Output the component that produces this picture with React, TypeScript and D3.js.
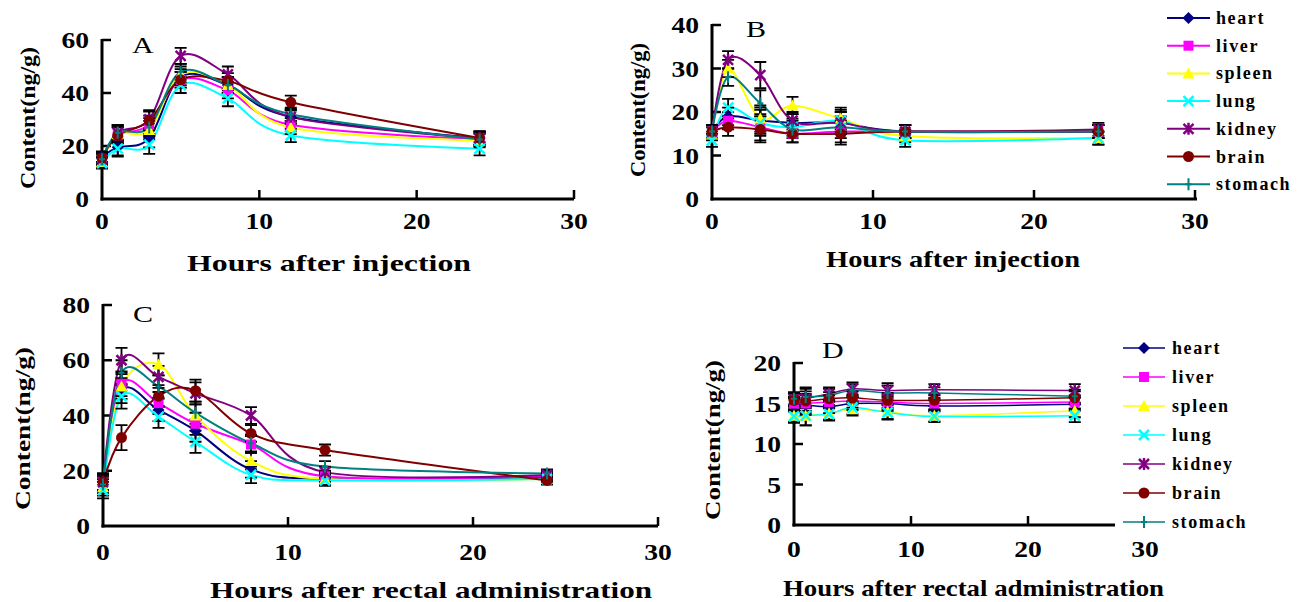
import React from "react";
import * as d3 from "d3";

// sampling times (hours)
const hours = [0, 1, 3, 5, 8, 12, 24];
const organs = ["heart", "liver", "spleen", "lung", "kidney", "brain", "stomach"];
const organColors = ["#000080", "#ff00ff", "#ffff00", "#00ffff", "#800080", "#800000", "#008080"];

// A: injection, tissue content ng/g
const heartA = [16, 19.5, 23, 46, 43, 31, 23];
const liverA = [15, 24, 28, 45, 41, 28, 22.5];
const spleenA = [14, 24.5, 26, 47, 43, 27, 22];
const lungA = [13.5, 19, 20.5, 43, 38, 24, 19];
const kidneyA = [15, 25, 30, 54, 47, 31, 23];
const brainA = [15.5, 24, 29.5, 45, 44.5, 36.5, 23];
const stomachA = [15, 25, 27, 48, 43, 32, 22.5];
const errA = [2, 3, 3.5, 3, 3, 2.5, 2.5];

// B
const heartB = [15.5, 19, 18, 17.5, 17.5, 15.5, 15.5];
const liverB = [15.5, 18, 16.5, 15, 15.5, 15.5, 15.5];
const spleenB = [15, 30, 18.5, 21.5, 18.5, 14.5, 14];
const lungB = [13.5, 21, 17.5, 16.5, 18, 13.5, 14];
const kidneyB = [15.5, 32, 28.5, 18, 17.5, 15.5, 16];
const brainB = [15.5, 16.5, 16, 15, 15, 15.5, 15.5];
const stomachB = [15.5, 28, 22, 16, 16.5, 15.5, 15.5];
const errB = [1.5, 2, 3, 2, 2.5, 1.5, 1.5];

// C: rectal administration
const heartC = [15, 49, 42, 34.5, 20.5, 17, 17.5];
const liverC = [15.5, 51.5, 44.5, 37, 29.5, 18, 18];
const spleenC = [14, 50.5, 58.5, 40, 23.5, 17, 17];
const lungC = [13, 47, 39.5, 30.5, 18.5, 16.5, 17];
const kidneyC = [16, 60, 54, 48, 40, 19.5, 18.5];
const brainC = [16, 32, 47, 49, 33.5, 27.5, 16.5];
const stomachC = [15, 55.5, 50.5, 41, 30, 21.5, 19];
const errC = [3, 4.5, 4, 4, 3, 2, 1.5];

// D
const heartD = [14.8, 14.8, 14.6, 15.0, 15.0, 14.7, 14.9];
const liverD = [15.0, 15.0, 15.2, 15.3, 15.2, 15.0, 15.2];
const spleenD = [13.5, 13.5, 13.8, 14.3, 14.0, 13.5, 14.1];
const lungD = [13.4, 13.5, 13.7, 14.5, 13.9, 13.4, 13.5];
const kidneyD = [15.5, 15.6, 16.2, 16.8, 16.6, 16.7, 16.6];
const brainD = [15.4, 15.3, 15.6, 15.7, 15.4, 15.4, 15.7];
const stomachD = [15.6, 15.8, 16.0, 16.6, 16.3, 16.3, 15.9];
const errD = [0.8, 1.2, 0.8, 0.8, 0.9, 0.7, 0.8];

const xTicks = [0, 10, 20, 30];
const yTicksA = [0, 20, 40, 60];
const yTicksB = [0, 10, 20, 30, 40];
const yTicksC = [0, 20, 40, 60, 80];
const yTicksD = [0, 5, 10, 15, 20];

const serif = "'Liberation Serif', 'Times New Roman', serif";

function Marker({ kind, x, y, color }) {
  const s = 5;
  switch (kind) {
    case 0:
      return <path d={`M${x},${y - s - 1}L${x + s + 1},${y}L${x},${y + s + 1}L${x - s - 1},${y}Z`} fill={color} />;
    case 1:
      return <rect x={x - s} y={y - s} width={2 * s} height={2 * s} fill={color} />;
    case 2:
      return <path d={`M${x},${y - s - 1}L${x + s + 1},${y + s}L${x - s - 1},${y + s}Z`} fill={color} />;
    case 3:
      return <path d={`M${x - s},${y - s}L${x + s},${y + s}M${x + s},${y - s}L${x - s},${y + s}`} stroke={color} strokeWidth={2.5} />;
    case 4:
      return (
        <path
          d={`M${x - s},${y - s}L${x + s},${y + s}M${x + s},${y - s}L${x - s},${y + s}M${x},${y - s - 1}L${x},${y + s + 1}`}
          stroke={color}
          strokeWidth={2.5}
        />
      );
    case 5:
      return <circle cx={x} cy={y} r={s + 0.5} fill={color} />;
    default:
      return <path d={`M${x},${y - s - 1}L${x},${y + s + 1}M${x - 3},${y}L${x + 3},${y}`} stroke={color} strokeWidth={2} />;
  }
}

// the figure is a little stretched sideways, so labels are widened
function Wide({ x, y, anchor, size, bold, sx, children }) {
  return (
    <text
      transform={`translate(${x},${y}) scale(${sx},1)`}
      textAnchor={anchor}
      fontSize={size}
      fontWeight={bold ? "bold" : "normal"}
    >
      {children}
    </text>
  );
}

function Panel({ series, err, letter, letterPos, xr, yr, ymax, yTicks, xAxisEnd, xTickVals, xLabelDy, xTitle, xTitleBox, yTitleBox, lineW }) {
  const x = d3.scaleLinear().domain([0, 30]).range(xr);
  const y = d3.scaleLinear().domain([0, ymax]).range(yr);
  const line = d3
    .line<number>()
    .x((d, i) => x(hours[i]))
    .y((d) => y(d))
    .curve(d3.curveCatmullRom.alpha(0));
  const x0 = x(0);
  const yb = y(0);
  return (
    <g fontFamily={serif}>
      {/* axes */}
      <line x1={x0} x2={x0} y1={y(ymax) - 1} y2={yb + 1.5} stroke="#000" strokeWidth={3} />
      <line x1={x0 - 1.5} x2={xAxisEnd} y1={yb} y2={yb} stroke="#000" strokeWidth={3} />
      {yTicks.map((t) => (
        <g key={"y" + t}>
          {t > 0 && <line x1={x0} x2={x0 + 9} y1={y(t)} y2={y(t)} stroke="#000" strokeWidth={2.5} />}
          <Wide x={x0 - 13} y={y(t) + 8} anchor="end" size={23} bold sx={1.2}>
            {t}
          </Wide>
        </g>
      ))}
      {xTicks.map((t) => (
        <g key={"x" + t}>
          {t > 0 && xTickVals.includes(t) && <line x1={x(t)} x2={x(t)} y1={yb} y2={yb - 9} stroke="#000" strokeWidth={2.5} />}
          <Wide x={x(t)} y={yb + xLabelDy} anchor="middle" size={23} bold sx={1.2}>
            {t}
          </Wide>
        </g>
      ))}
      <Wide x={letterPos[0]} y={letterPos[1]} anchor="start" size={24} bold={false} sx={1.25}>
        {letter}
      </Wide>
      <text
        x={xTitleBox[0]}
        y={xTitleBox[2]}
        fontSize={23}
        fontWeight="bold"
        textLength={xTitleBox[1] - xTitleBox[0]}
        lengthAdjust="spacingAndGlyphs"
      >
        {xTitle}
      </text>
      <text
        transform={`translate(${yTitleBox[0]},${yTitleBox[1]}) rotate(-90)`}
        fontSize={21}
        fontWeight="bold"
        textLength={yTitleBox[2]}
        lengthAdjust="spacingAndGlyphs"
      >
        Content(ng/g)
      </text>
      {/* lines */}
      {series.map((vals, k) => (
        <path key={"l" + k} d={line(vals) || ""} fill="none" stroke={organColors[k]} strokeWidth={lineW} />
      ))}
      {/* error bars */}
      {series.map((vals, k) =>
        vals.map((v, i) => {
          const cx = x(hours[i]);
          const top = y(v + err[i]);
          const bot = y(v - err[i]);
          return (
            <path
              key={"e" + k + "-" + i}
              d={`M${cx},${top}L${cx},${bot}M${cx - 6},${top}L${cx + 6},${top}M${cx - 6},${bot}L${cx + 6},${bot}`}
              stroke="#000"
              strokeWidth={1.8}
              fill="none"
            />
          );
        })
      )}
      {/* markers */}
      {series.map((vals, k) =>
        vals.map((v, i) => <Marker key={"m" + k + "-" + i} kind={k} x={x(hours[i])} y={y(v)} color={organColors[k]} />)
      )}
    </g>
  );
}

function Legend({ lx, tx, top, step, lineW }) {
  return (
    <g fontFamily={serif}>
      {organs.map((o, k) => {
        const yy = top + k * step;
        return (
          <g key={o}>
            <line x1={lx[0]} x2={lx[1]} y1={yy} y2={yy} stroke={organColors[k]} strokeWidth={lineW} />
            <Marker kind={k} x={(lx[0] + lx[1]) / 2} y={yy} color={organColors[k]} />
            <text x={tx} y={yy + 6} fontSize={18} fontWeight="bold" letterSpacing={1.6}>
              {o}
            </text>
          </g>
        );
      })}
    </g>
  );
}

export default function App() {
  const sA = [heartA, liverA, spleenA, lungA, kidneyA, brainA, stomachA];
  const sB = [heartB, liverB, spleenB, lungB, kidneyB, brainB, stomachB];
  const sC = [heartC, liverC, spleenC, lungC, kidneyC, brainC, stomachC];
  const sD = [heartD, liverD, spleenD, lungD, kidneyD, brainD, stomachD];
  return (
    <svg width={1299} height={602} style={{ position: "absolute", left: 0, top: 0, background: "#fff" }}>
      <rect width={1299} height={602} fill="#fff" />
      <Panel
        series={sA}
        err={errA}
        letter="A"
        letterPos={[132, 53]}
        xr={[102, 574]}
        yr={[199, 40]}
        ymax={60}
        yTicks={yTicksA}
        xAxisEnd={574}
        xTickVals={[10, 20, 30]}
        xLabelDy={30}
        xTitle="Hours after injection"
        xTitleBox={[187, 471, 271]}
        yTitleBox={[35, 189, 142]}
        lineW={2}
      />
      <Panel
        series={sB}
        err={errB}
        letter="B"
        letterPos={[746, 37]}
        xr={[712, 1195]}
        yr={[199, 25]}
        ymax={40}
        yTicks={yTicksB}
        xAxisEnd={1197}
        xTickVals={[10, 20, 30]}
        xLabelDy={30}
        xTitle="Hours after injection"
        xTitleBox={[826, 1080, 267]}
        yTitleBox={[645, 177, 134]}
        lineW={2}
      />
      <Legend lx={[1167, 1210]} tx={1216} top={18} step={27.7} lineW={2} />
      <Panel
        series={sC}
        err={errC}
        letter="C"
        letterPos={[133, 322]}
        xr={[103, 658]}
        yr={[526, 305]}
        ymax={80}
        yTicks={yTicksC}
        xAxisEnd={658}
        xTickVals={[10, 20, 30]}
        xLabelDy={34}
        xTitle="Hours after rectal administration"
        xTitleBox={[210, 652, 598]}
        yTitleBox={[30, 510, 163]}
        lineW={2}
      />
      <Panel
        series={sD}
        err={errD}
        letter="D"
        letterPos={[822, 358]}
        xr={[794, 1145]}
        yr={[525, 363]}
        ymax={20}
        yTicks={yTicksD}
        xAxisEnd={1115}
        xTickVals={[10, 20]}
        xLabelDy={32}
        xTitle="Hours after rectal administration"
        xTitleBox={[783, 1164, 596]}
        yTitleBox={[720, 520, 160]}
        lineW={1.5}
      />
      <Legend lx={[1123, 1165]} tx={1172} top={348} step={29} lineW={1.5} />
    </svg>
  );
}
